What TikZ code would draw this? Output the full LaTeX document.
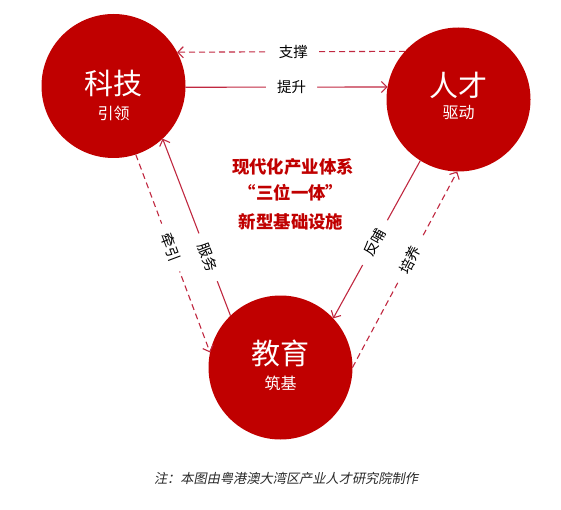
\documentclass[tikz,border=0pt]{standalone}
\usepackage{fontspec}
\setmainfont{Noto Sans CJK SC}
\newfontfamily\cjkit{Noto Sans CJK SC}[FakeSlant=0.2]
\usetikzlibrary{arrows.meta}
\definecolor{cred}{RGB}{192,0,0}
\definecolor{lred}{RGB}{192,40,64}
\definecolor{notec}{RGB}{40,40,40}
\begin{document}
\begin{tikzpicture}[x=1pt,y=-1pt,
 ball/.style={circle,fill=cred,draw=none,minimum size=144pt,inner sep=0pt,outer sep=0pt},
 big/.style={text=white,inner sep=0pt,font=\fontsize{29}{32}\selectfont},
 small/.style={text=white,inner sep=0pt,font=\fontsize{16}{18}\selectfont},
 conn/.style={draw=lred,line width=1.1pt,-{Straight Barb[length=5.5pt,width=11pt]}},
 dsh/.style={conn,dash pattern=on 6pt off 4pt},
 lab/.style={fill=white,inner xsep=11pt,inner ysep=0pt,font=\fontsize{14.5}{16}\selectfont,text=black,sloped},
 ctr/.style={text=cred,inner sep=0pt,font=\bfseries\fontsize{17.4}{19}\selectfont}]
\path[use as bounding box] (0,0) rectangle (561,510);
\node[ball] (kj) at (113.5,86) {};
\node[ball] (rc) at (458.5,99.5) {};
\node[ball] (jy) at (280.5,367.5) {};
\node[big] (kjt) at (113.5,83) {科技};
\node[small] (kjs) at (113.5,113) {引领};
\node[big] (rct) at (458.5,85) {人才};
\node[small] (rcs) at (458.5,113) {驱动};
\node[big] (jyt) at (280.5,353) {教育};
\node[small] (jys) at (280.5,383) {筑基};

\path[dsh] (rc.138.7) -- node[lab,pos=0.49] (l1) {支撑} (kj.28.5);
\path[conn] (kj.-1.6) -- node[lab,pos=0.525] (l2) {提升} (rc.170.8);
\path[dsh] (kj.-72.5) -- node[lab,pos=0.47] (l3) {牵引} (jy.168);
\path[conn] (jy.134.5) -- node[lab,pos=0.33] (l4) {服务} (kj.-47.5);
\path[conn] (rc.-122.5) -- node[lab,pos=0.52] (l5) {反哺} (jy.43.9);
\path[dsh] (jy.0.4) -- node[lab,pos=0.55] (l6) {培养} (rc.-91.2);

\node[ctr] (c1) at (293,167) {现代化产业体系};
\node[ctr] (c2) at (291,193) {“三位一体”};
\node[ctr] (c3) at (291,222) {新型基础设施};

\node[text=notec,inner sep=0pt,font=\cjkit\fontsize{13.2}{15}\selectfont] (note) at (286,478) {注：本图由粤港澳大湾区产业人才研究院制作};
\end{tikzpicture}
\end{document}
